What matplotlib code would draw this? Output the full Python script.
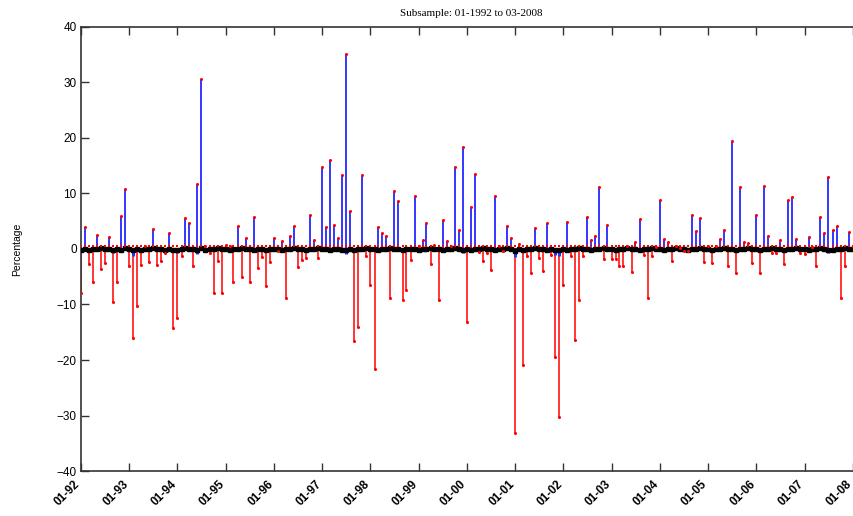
import matplotlib
matplotlib.use("Agg")
import matplotlib.pyplot as plt
import matplotlib.dates as mdates
import matplotlib.transforms as mtransforms
import numpy as np
import pandas as pd

# monthly observations, 01-1992 .. 03-2008
fechas = pd.date_range("1992-01-01", periods=195, freq="MS")

# main series (percentage), one row per year
cambios = [
    -8.0, 4.0, -2.7, -6.0, 2.5, -3.6, -2.5, 2.2, -9.5, -5.9, 6.0, 10.8,        # 1992
    -3.1, -16.1, -10.3, -2.9, 0.6, -2.3, 3.6, -2.8, -2.2, -0.8, 2.8, -14.2,    # 1993
    -12.5, -1.2, 5.6, 4.7, -3.1, 11.8, 30.7, 0.5, -0.7, -7.9, -2.2, -7.9,      # 1994
    0.7, 0.6, -5.9, 4.1, -5.0, 2.0, -5.9, 5.8, -3.5, -1.4, -6.7, -2.3,         # 1995
    1.9, -0.4, 1.4, -8.9, 2.3, 4.2, -3.3, -2.0, -1.7, 6.2, 1.7, -1.7,          # 1996
    14.8, 4.0, 16.0, 4.4, 1.9, 13.4, 35.1, 6.9, -16.5, -14.0, 13.4, -1.3,      # 1997
    -6.5, -21.6, 4.0, 2.9, 2.3, -8.8, 10.5, 8.6, -9.2, -7.3, -2.0, 9.6,        # 1998
    0.5, 1.6, 4.7, -2.7, 0.8, -9.1, 5.2, 1.4, 0.5, 14.8, 3.5, 18.3,            # 1999
    -13.1, 7.6, 13.6, -0.6, -2.1, -0.7, -3.8, 9.5, 0.6, -0.4, 4.2, 2.0,        # 2000
    -33.2, 0.9, -20.9, -1.2, -4.4, 3.7, -1.6, -4.0, 4.6, -1.0, -19.5, -30.2,   # 2001
    -6.5, 4.9, -1.2, -16.4, -9.2, -1.2, 5.8, 1.6, 2.3, 11.2, -1.8, 4.4,        # 2002
    -1.8, -1.8, -3.1, -3.0, 0.6, -4.1, 1.2, 5.4, -1.1, -8.9, -1.2, 0.3,        # 2003
    8.8, 1.8, 1.3, -2.1, 0.6, 0.2, -0.4, -0.4, 6.2, 3.3, 5.6, -2.3,            # 2004
    0.6, -2.5, 0.5, 1.8, 3.5, -3.1, 19.4, -4.3, 11.2, 1.3, 1.0, -2.5,          # 2005
    6.2, -4.3, 11.4, 2.3, -0.8, -0.8, 1.6, -2.7, 8.8, 9.3, 1.8, -0.7,          # 2006
    -0.9, 2.2, 0.3, -3.1, 5.8, 2.8, 13.0, 3.5, 4.2, -8.8, -3.1, 3.1,           # 2007
    0.6, -0.5, 0.4,                                                            # 2008
]

# small second series around zero
residuos = [
    -0.6, 0.4, -0.5, 0.3, -0.4, 0.5, -0.3, 0.4, -0.8, 0.3, -0.5, 0.6,
    -0.4, -1.2, 0.3, -0.5, 0.4, -0.3, 0.5, -0.4, 0.3, -0.6, 0.4, -0.5,
    -0.8, 0.3, 0.5, -0.4, 0.3, -0.9, 0.6, -0.5, 0.4, -0.3, 0.5, -0.4,
    0.3, -0.6, 0.4, -0.3, 0.5, -0.4, 0.3, -0.5, 0.4, -0.3, -0.6, 0.3,
    -0.4, 0.3, -0.5, 0.4, -0.3, 0.5, -0.4, 0.3, -0.5, 0.4, -0.3, 0.5,
    -0.4, 0.3, -0.5, 0.4, -0.3, -0.6, -0.9, 0.4, -0.5, 0.3, -0.4, 0.5,
    -0.3, 0.4, -0.5, 0.3, -0.4, 0.5, -0.3, 0.4, -0.5, 0.3, -0.4, 0.3,
    -0.5, 0.4, -0.3, 0.5, -0.4, 0.3, -0.5, 0.4, -0.3, 0.5, -0.4, -0.8,
    0.3, -0.5, 0.4, -0.3, 0.5, -0.4, 0.3, -0.5, 0.4, -0.3, 0.5, -0.4,
    -1.5, 0.3, -0.6, 0.4, -0.3, 0.5, -0.4, 0.3, -0.5, 0.4, -1.1, -1.3,
    0.3, -0.5, 0.4, -0.3, 0.5, -0.4, 0.3, -0.5, 0.4, -0.3, 0.5, -0.4,
    0.3, -0.5, 0.4, -0.3, 0.5, -0.4, 0.3, -0.5, 0.4, -0.3, 0.5, -0.4,
    0.3, -0.5, 0.4, -0.3, 0.5, -0.4, 0.3, -0.5, 0.4, -0.3, 0.5, -0.4,
    0.3, -0.5, 0.4, -0.3, 0.5, -0.4, 0.3, -0.5, 0.4, -0.3, 0.5, -0.4,
    0.3, -0.5, 0.4, -0.3, 0.5, -0.4, 0.3, -0.5, 0.4, -0.3, 0.5, -0.4,
    0.3, -0.5, 0.4, -0.3, 0.5, -0.4, -0.7, -0.5, 0.4, -0.3, 0.5, -0.4,
    0.3, -0.5, 0.4,
]

# January of every year gets a tick
ticks_x = pd.date_range("1992-01-01", "2008-01-01", freq="YS")
etiquetas_x = [f"01-{a % 100:02d}" for a in range(1992, 2009)]

titulo = "Subsample: 01-1992 to 03-2008"
etiqueta_y = "Percentage"

cambios = np.array(cambios)
residuos = np.array(residuos)

fig = plt.figure(figsize=(8.54, 5.16), dpi=100)
ax = fig.add_axes([0.0948, 0.0872, 0.913, 0.8605])

pos = cambios > 0
neg = cambios < 0
ax.vlines(fechas[pos], 0, cambios[pos], color="#0000ff", lw=1.1, zorder=2)
ax.vlines(fechas[neg], 0, cambios[neg], color="#ff0000", lw=1.1, zorder=2)

# near-zero series
ax.vlines(fechas, 0, residuos, color="#3030ff", lw=2.2, zorder=3)
ax.plot(fechas, np.zeros(len(fechas)), color="k", lw=1.2, zorder=3)
ax.plot(fechas, residuos * 0.2, ls="none", marker="s", ms=2.5, color="k", zorder=4)

ax.plot(fechas, cambios, ls="none", marker="o", ms=2.2, color="#ff0000",
        markeredgewidth=0, zorder=5)
ax.plot(fechas, np.full(len(fechas), 0.6), ls="none", marker="s", ms=2,
        color="#ff0000", markeredgewidth=0, zorder=5)

ax.set_xlim(pd.Timestamp("1992-01-01"), pd.Timestamp("2008-03-01"))
ax.set_ylim(-40, 40)
ax.set_yticks(np.arange(-40, 41, 10))
ax.set_xticks(ticks_x)
ax.set_xticklabels([])

for lab in ax.get_yticklabels():
    lab.set_fontfamily("Liberation Sans")
    lab.set_fontsize(8.5)

# rotated x labels, drawn by hand so they can sit a little left of the tick
desplazar = mtransforms.ScaledTranslation(-5 / 72, -5 / 72, fig.dpi_scale_trans)
trans_x = ax.get_xaxis_transform() + desplazar
for t, e in zip(ticks_x, etiquetas_x):
    ax.text(t, 0, e, transform=trans_x, rotation=45, ha="right", va="top",
            rotation_mode="anchor", fontfamily="Liberation Sans",
            fontsize=8.5, fontweight="bold", clip_on=False)

ax.tick_params(direction="in", length=6, width=1, top=True, right=True, colors="#333333")
ax.tick_params(labelcolor="black", pad=3)
for s in ax.spines.values():
    s.set_linewidth(1.2)
    s.set_color("#333333")

ax.set_title(titulo, fontfamily="Liberation Serif", fontsize=8, pad=8)
ax.set_ylabel(etiqueta_y, fontfamily="Liberation Sans", fontsize=7.5, labelpad=25)

fig.savefig("out.png", dpi=100)
